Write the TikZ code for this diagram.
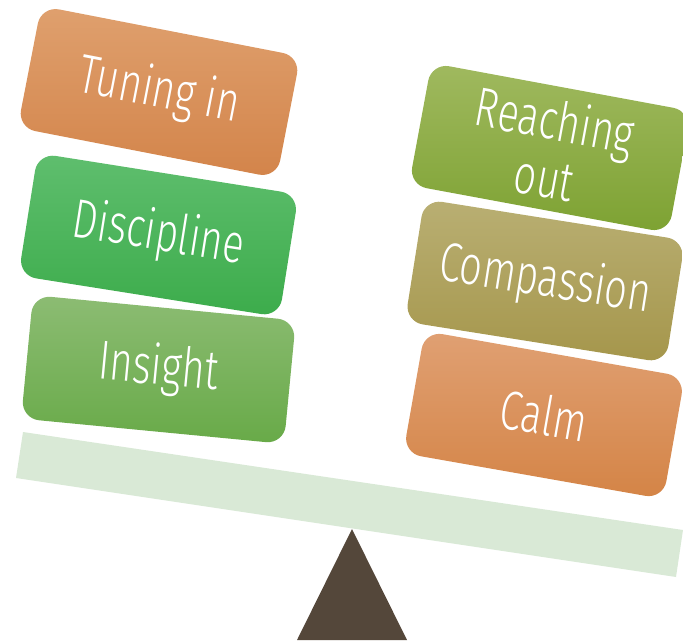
\documentclass[tikz,border=0pt]{standalone}
\usepackage{fontspec}
\setmainfont{Fira Sans}[UprightFont=* Light, FakeStretch=0.72]
\begin{document}
\begin{tikzpicture}[x=1pt,y=-1pt,
  weight/.style={rounded corners=18pt, minimum width=264pt, minimum height=124pt,
    inner sep=0pt, text=white, align=center, font=\fontsize{55}{58}\selectfont},
]
\definecolor{tunetop}{HTML}{DFA06E}\definecolor{tunebot}{HTML}{D3844A}
\definecolor{disctop}{HTML}{5FBE6E}\definecolor{discbot}{HTML}{3CAC4B}
\definecolor{instop}{HTML}{8CBC73}\definecolor{insbot}{HTML}{68AA48}
\definecolor{reachtop}{HTML}{A0B95F}\definecolor{reachbot}{HTML}{7DA232}
\definecolor{comptop}{HTML}{B9AF73}\definecolor{compbot}{HTML}{A5964B}
\definecolor{calmtop}{HTML}{E0A073}\definecolor{calmbot}{HTML}{D48446}
\definecolor{beam}{HTML}{D9E9D6}
\definecolor{fulcrum}{HTML}{54473A}
\useasboundingbox (0,0) rectangle (683,643);

% beam and fulcrum
\fill[beam] (23,432) -- (683,530) -- (676,577) -- (16,478) -- cycle;
\fill[fulcrum] (352,529) -- (407,640) -- (297,640) -- cycle;

% left stack
\node[weight, rotate=-11, top color=tunetop, bottom color=tunebot] (tuning) at (159,92) {Tuning in};
\node[weight, rotate=-9, top color=disctop, bottom color=discbot] (discipline) at (158.5,235) {Discipline};
\node[weight, rotate=-5.5, top color=instop, bottom color=insbot] (insight) at (158.5,369.5) {Insight};

% right stack
\node[weight, rotate=-10.5, top color=reachtop, bottom color=reachbot] (reaching) at (550,148) {Reaching\\out};
\node[weight, rotate=-9, top color=comptop, bottom color=compbot] (compassion) at (545,281) {Compassion};
\node[weight, rotate=-10, top color=calmtop, bottom color=calmbot] (calm) at (544,415) {Calm};
\end{tikzpicture}
\end{document}
